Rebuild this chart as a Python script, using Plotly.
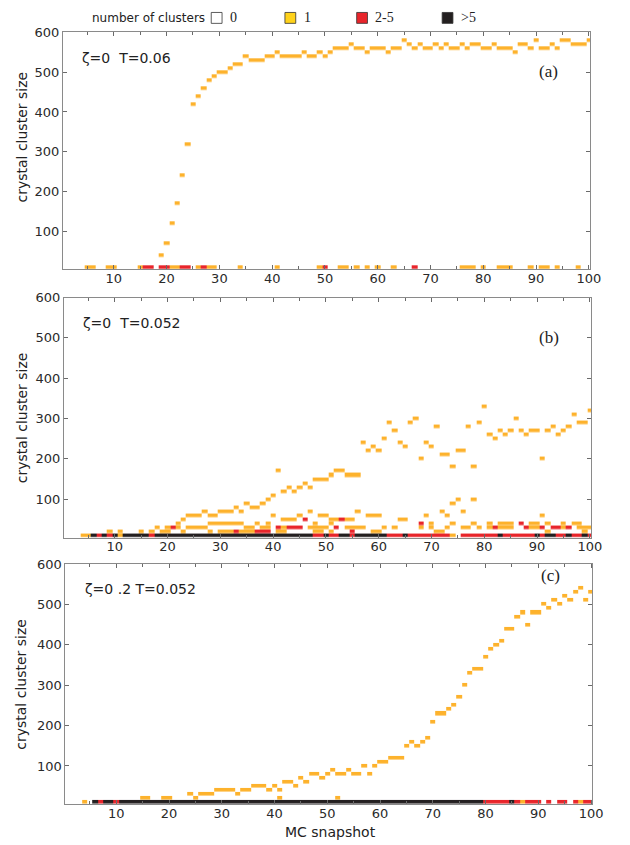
import plotly.graph_objects as go

# ---------------- data ----------------
snapshots = list(range(1, 101))          # MC snapshot index
sizes = list(range(10, 601, 10))          # crystal cluster size bins
legend_labels = ["0", "1", "2-5", ">5"]
panel_labels = ["(a)", "(b)", "(c)"]
panel_params = ["ζ=0\u00a0\u00a0T=0.06", "ζ=0\u00a0\u00a0T=0.052", "ζ=0\u00a0.2\u00a0T=0.052"]

# bottom row (size 10): '.' none, 'y' one cluster, 'r' 2-5 clusters, 'k' >5 clusters
a_row10 = ("....yy..yy" "....yrr.rr" "yyrr.yryy." "...y......" "y.......yr"
           "..yy.y.y.y" "..y...r..." ".....yyy.y" "..yyy...y." "yy.y...y..")
b_row10 = ("...yykrkrk" "ykkkkkrkkk" "kkkkkkkkkk" "kkkkkkkkkk" "kkkkkkkrrk"
           "rrkkrkkkkk" "krrrkrrrrr" "rrry.rrrrr" "rrkrrrrrrk" "rkkrrkrrkr")
c_row10 = ("...y.krkkr" "kkkkkkkkkk" "kkkkkkkkkk" "kkkkkkkkkk" "kkkkkkkkkk"
           "kkkkkkkkkk" "kkkkkkkkkk" "kkkkkkkkkr" "rrrrkryrrr" ".r.rr.ryrr")

# panel (a): largest crystal (one cluster) from snapshot 19 to 100
a_curve_snap = list(range(19, 101))
a_curve_size = [40, 70, 120, 170, 240, 320, 420, 440, 460, 480,
                 490, 500, 500, 510, 520, 520, 540, 530, 530, 530,
                 540, 540, 550, 540, 540, 540, 540, 550, 540, 540,
                 550, 540, 550, 560, 560, 560, 570, 560, 560, 550,
                 560, 560, 560, 550, 560, 560, 580, 570, 560, 570,
                 560, 560, 570, 560, 570, 560, 560, 570, 560, 570,
                 570, 560, 560, 570, 560, 560, 560, 550, 570, 570,
                 560, 580, 560, 560, 570, 560, 580, 580, 570, 570,
                 570, 580]

# panel (b): small sizes, snapshots holding one cluster / 2-5 clusters
b_row20_one = [9, 11, 15, 17, 19, 20, 23, 28, 30, 31, 32, 34, 35, 36, 41, 42, 48, 49, 51, 59, 60, 71, 72, 92, 99]
b_row20_many = [33, 37, 38, 39, 55]
b_row30_one = [18, 20, 22, 24, 25, 26, 27, 35, 36, 38, 39, 42, 47, 48, 49, 50, 54, 55, 56, 57, 61, 63, 68,
               70, 73, 76, 77, 79, 81, 83, 84, 85, 89, 90, 95, 98, 99, 100]
b_row30_many = [21, 41, 43, 44, 45, 52, 82, 88, 91, 93, 94, 96]
b_row40_one = [22, 28, 29, 30, 31, 32, 33, 34, 37, 39, 48, 51, 70, 74, 78, 81, 83, 84, 85, 89, 90, 92, 95, 97, 98]
b_row40_many = [68, 87]
b_row50_one = [23, 42, 43, 44, 51, 52, 54, 55, 64, 65]
b_row50_many = [46, 53]
b_row60_one = [24, 25, 26, 28, 29, 40, 45, 49, 50, 58, 59, 60, 69, 73, 91]
b_row70_one = [27, 30, 31, 32, 34, 47, 56, 72, 76]
# panel (b): growing branch (one cluster), sizes >= 80
b_upper_snap = [33] + list(range(35, 101))
b_upper_size = [80,
                90, 80, 80, 90, 100, 110, 170, 120, 130, 120,
                130, 140, 130, 150, 150, 150, 160, 170, 170, 160,
                160, 160, 240, 220, 230, 220, 250, 290, 270, 240,
                230, 290, 300, 200, 240, 230, 280, 210, 210, 180,
                220, 220, 280, 180, 290, 330, 260, 250, 270, 260,
                270, 300, 270, 260, 270, 270, 200, 270, 280, 260,
                270, 280, 310, 290, 290, 320]
b_extra_snap = [74, 75, 78]
b_extra_size = [90, 100, 100]

# panel (c): largest crystal (one cluster)
c_curve_snap = [15, 16, 19, 20] + list(range(24, 101)) + [41, 52]
c_curve_size = [20, 20, 20, 20,
                30, 20, 30, 30, 30, 40, 40, 40, 40, 30,
                40, 40, 50, 50, 50, 40, 50, 40, 60, 60,
                50, 70, 60, 80, 80, 70, 80, 90, 80, 80,
                90, 80, 80, 100, 80, 100, 110, 110, 120, 120,
                120, 150, 160, 150, 160, 170, 210, 230, 230, 240,
                250, 270, 300, 330, 340, 340, 370, 390, 400, 410,
                440, 440, 470, 480, 450, 480, 480, 500, 490, 510,
                500, 520, 510, 530, 540, 510, 530,
                20, 20]

# ---------------- build grids ----------------
code = {"y": 1, "r": 2, "k": 3}


def empty_grid():
    return [[None for _ in snapshots] for _ in sizes]


def put(grid, snap, size, cls):
    grid[sizes.index(size)][snapshots.index(snap)] = cls


def put_row(grid, size, row):
    for snap, ch in zip(snapshots, row):
        if ch in code:
            put(grid, snap, size, code[ch])


za = empty_grid()
put_row(za, 10, a_row10)
for s, v in zip(a_curve_snap, a_curve_size):
    put(za, s, v, 1)

zb = empty_grid()
put_row(zb, 10, b_row10)
for v, one, many in [(20, b_row20_one, b_row20_many), (30, b_row30_one, b_row30_many),
                     (40, b_row40_one, b_row40_many), (50, b_row50_one, b_row50_many),
                     (60, b_row60_one, []), (70, b_row70_one, [])]:
    for s in one:
        put(zb, s, v, 1)
    for s in many:
        put(zb, s, v, 2)
for s, v in zip(b_upper_snap + b_extra_snap, b_upper_size + b_extra_size):
    put(zb, s, v, 1)

zc = empty_grid()
put_row(zc, 10, c_row10)
for s, v in zip(c_curve_snap, c_curve_size):
    put(zc, s, v, 1)

# ---------------- figure ----------------
ORANGE = "#FDB22C"
RED = "#E8252B"
BLACK = "#231F20"
cscale = [[0, ORANGE], [1 / 3, ORANGE], [1 / 3, RED], [2 / 3, RED], [2 / 3, BLACK], [1, BLACK]]

W, H = 630, 845
# pixel layout of the three panels: (left, right, top, bottom)
boxes = [(64, 600.7, 25.5, 264.5), (65, 601.7, 293, 535), (66.5, 603, 561.6, 804)]
title_shift = [-14, 0, 0]
label_dy = [40, 40, 12]

fig = go.Figure()
grids = [za, zb, zc]
font_sans = "DejaVu Sans"
for i, (g, (l, r, t, b)) in enumerate(zip(grids, boxes)):
    n = "" if i == 0 else str(i + 1)
    fig.add_trace(go.Heatmap(
        x=snapshots, y=sizes, z=g, zmin=0.5, zmax=3.5, colorscale=cscale,
        showscale=False, ygap=0.4, xgap=0, hoverinfo="skip",
        xaxis="x" + n, yaxis="y" + n))
    common = dict(showline=True, linecolor="#8a8a8a", linewidth=1, mirror="ticks",
                  ticks="inside", tickcolor="#6a6a6a", ticklen=4, showgrid=False,
                  zeroline=False, tickfont=dict(family=font_sans, size=13, color="#2a2a2a"))
    fig.layout["xaxis" + n] = dict(
        domain=[l / W, r / W], anchor="y" + n, range=[0.35, 100.26],
        tickmode="linear", tick0=0, dtick=10, ticklabelstandoff=-3,
        minor=dict(tick0=0, dtick=5, ticks="inside", ticklen=3, tickcolor="#6a6a6a"),
        **common)
    fig.layout["yaxis" + n] = dict(
        domain=[1 - b / H, 1 - t / H], anchor="x" + n, range=[5, 600],
        tickmode="array", tickvals=[100, 200, 300, 400, 500, 600], **common)
    # y title
    fig.add_annotation(text="crystal cluster size", xref="paper", yref="paper",
                       x=22 / W, y=1 - ((t + b) / 2 + title_shift[i]) / H, textangle=-90,
                       showarrow=False, xanchor="center", yanchor="middle",
                       font=dict(family=font_sans, size=14, color="#222"))
    fig.add_annotation(text=panel_params[i], xref="paper", yref="paper",
                       x=(l + 17.5) / W, y=1 - (t + 25.5) / H, showarrow=False,
                       xanchor="left", yanchor="middle",
                       font=dict(family=font_sans, size=14, color="#222"))
    fig.add_annotation(text=panel_labels[i], xref="paper", yref="paper",
                       x=(l + 494) / W, y=1 - (t + label_dy[i]) / H, showarrow=False,
                       xanchor="center", yanchor="middle",
                       font=dict(family="Liberation Serif", size=17, color="#222"))

fig.add_annotation(text="MC snapshot", xref="paper", yref="paper", x=336 / W, y=1 - 832 / H,
                   showarrow=False, xanchor="center", yanchor="middle",
                   font=dict(family=font_sans, size=14, color="#222"))

# legend (top)
fig.add_annotation(text="number of clusters", xref="paper", yref="paper", x=92 / W, y=1 - 11 / H,
                   showarrow=False, xanchor="left", yanchor="middle",
                   font=dict(family=font_sans, size=12, color="#222"))
sw_x = [215, 290, 363, 450]
sw_fill = ["white", "#FFD21A", RED, BLACK]
for xpx, fill, lab in zip(sw_x, sw_fill, legend_labels):
    fig.add_shape(type="rect", xref="paper", yref="paper",
                  x0=xpx / W, x1=(xpx + 11) / W, y0=1 - 16.5 / H, y1=1 - 5.5 / H,
                  fillcolor=fill, line=dict(color="#333", width=0.8))
    fig.add_annotation(text=lab, xref="paper", yref="paper", x=(xpx + 17) / W, y=1 - 11 / H,
                       showarrow=False, xanchor="left", yanchor="middle",
                       font=dict(family="Liberation Serif", size=14, color="#222"))

fig.update_layout(width=W, height=H, margin=dict(l=0, r=0, t=0, b=0),
                  paper_bgcolor="white", plot_bgcolor="white", showlegend=False)
fig.write_html("out.html")
